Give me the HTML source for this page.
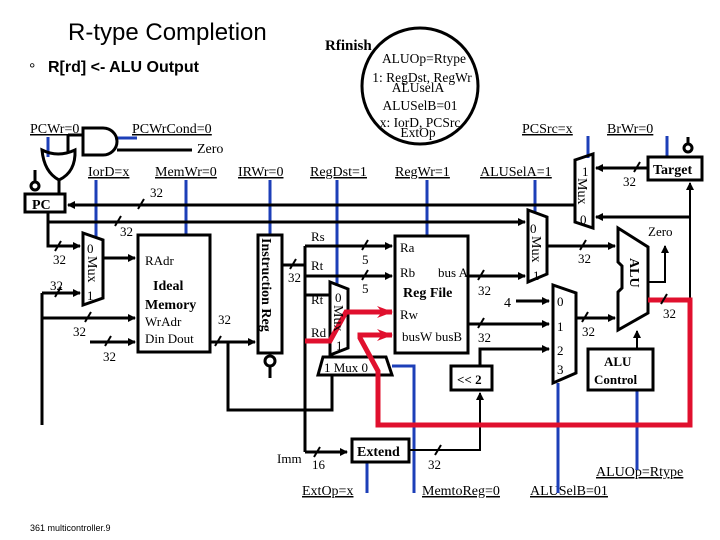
<!DOCTYPE html>
<html><head><meta charset="utf-8"><style>
html,body{margin:0;padding:0;background:#fff}
svg{display:block}
text{font-family:"Liberation Serif",serif;fill:#000}
.s{font-family:"Liberation Sans",sans-serif}
.u{text-decoration:underline}
</style></head><body>
<svg width="720" height="540" viewBox="0 0 720 540" xmlns="http://www.w3.org/2000/svg">
<defs>
<marker id="a" markerWidth="8" markerHeight="8" refX="7" refY="4" orient="auto" markerUnits="userSpaceOnUse"><path d="M0,0 L8,4 L0,8 Z" fill="#000"/></marker>
<marker id="r" markerWidth="16" markerHeight="12" refX="15" refY="6" orient="auto" markerUnits="userSpaceOnUse"><path d="M0,0 L16,6 L0,12 L5,6 Z" fill="#e0102e"/></marker>
</defs>
<text x="68" y="40" class="s" font-size="24">R-type Completion</text>
<text x="29" y="74" class="s" font-size="16">°</text>
<text x="48" y="72" class="s" font-size="16" font-weight="bold">R[rd]  &lt;-  ALU Output</text>

<!-- state bubble -->
<circle cx="420" cy="86" r="58" fill="none" stroke="#000" stroke-width="3"/>
<text x="325" y="50" font-size="15" font-weight="bold">Rfinish</text>
<g font-size="13.5" text-anchor="middle">
<text x="424" y="63">ALUOp=Rtype</text>
<text x="422" y="82">1: RegDst, RegWr</text>
<text x="418" y="92">ALUselA</text>
<text x="420" y="110">ALUSelB=01</text>
<text x="420" y="127">x: IorD, PCSrc</text>
<text x="418" y="137">ExtOp</text>
</g>

<!-- control labels -->
<g font-size="14" class="u">
<text x="30" y="133" class="u">PCWr=0</text>
<text x="132" y="133" class="u">PCWrCond=0</text>
<text x="88" y="176" class="u">IorD=x</text>
<text x="155" y="176" class="u">MemWr=0</text>
<text x="238" y="176" class="u">IRWr=0</text>
<text x="310" y="176" class="u">RegDst=1</text>
<text x="395" y="176" class="u">RegWr=1</text>
<text x="480" y="176" class="u">ALUSelA=1</text>
<text x="522" y="133" class="u">PCSrc=x</text>
<text x="607" y="133" class="u">BrWr=0</text>
<text x="302" y="495" class="u">ExtOp=x</text>
<text x="422" y="495" class="u">MemtoReg=0</text>
<text x="530" y="495" class="u">ALUSelB=01</text>
<text x="596" y="476" class="u">ALUOp=Rtype</text>
</g>
<text x="197" y="153" font-size="14">Zero</text>

<!-- blue control lines -->
<g stroke="#1d3fb8" stroke-width="3" fill="none">
<path d="M48,137V157"/><path d="M115,138H137"/>
<path d="M96,180V238"/><path d="M186,180V235"/><path d="M270,180V235"/>
<path d="M337,180V286"/><path d="M427,180V236"/><path d="M535,180V213"/>
<path d="M588,136V158"/><path d="M667,136V157"/>
<path d="M392,366H414V493"/><path d="M367,462V493"/><path d="M558,383V493"/><path d="M637,390V470"/>
</g>

<!-- black wiring -->
<g stroke="#000" stroke-width="3" fill="none">
<path d="M83,128V155H103A14,13.5 0 0 0 103,128Z"/>
<path d="M83,135H68"/><path d="M117,150H192"/>
<path d="M42,150Q58,158 75,150Q76,172 59,180Q44,172 42,150Z"/>
<path d="M59,180V194"/><path d="M68,135V152"/>
<circle cx="35" cy="186" r="4"/><path d="M35,170V182"/>
<rect x="25" y="194" width="40" height="18"/>
<path d="M575,205H68" marker-end="url(#a)"/>
<path d="M48,212V246H80" marker-end="url(#a)"/>
<path d="M48,222H525" marker-end="url(#a)"/>
<path d="M83,233L103,240V298L83,305Z"/>
<path d="M103,258H135" marker-end="url(#a)"/>
<path d="M42,293H80" marker-end="url(#a)"/>
<path d="M42,293V425"/>
<path d="M42,318H135" marker-end="url(#a)"/>
<path d="M90,342H135" marker-end="url(#a)"/>
<rect x="138" y="235" width="72" height="117"/>
<path d="M210,342H255" marker-end="url(#a)"/>
<path d="M228,342V410H332V376"/>
<rect x="258" y="235" width="24" height="118"/>
<circle cx="270" cy="361" r="5"/><path d="M270,366V378"/>
<path d="M282,265H305"/>
<path d="M305,246V452"/>
<path d="M305,246H392" marker-end="url(#a)"/>
<path d="M305,276H392" marker-end="url(#a)"/>
<path d="M305,295H330"/>
<path d="M305,452H347" marker-end="url(#a)"/>
<path d="M330,282L348,289V348L330,355Z"/>
<path d="M323,357H386L392,375H318Z"/>
<rect x="395" y="236" width="73" height="117"/>
<path d="M468,276H525" marker-end="url(#a)"/>
<path d="M468,324H549" marker-end="url(#a)"/>
<path d="M516,301H549" marker-end="url(#a)"/>
<path d="M480,366V349H549" marker-end="url(#a)"/>
<rect x="451" y="366" width="41" height="24"/>
<rect x="352" y="439" width="57" height="23"/>
<path d="M409,450H480V393" marker-end="url(#a)" stroke-width="2"/>
<path d="M528,210L547,217V274L528,282Z"/>
<path d="M547,246H615" marker-end="url(#a)"/>
<path d="M553,285L576,293V373L553,383Z"/>
<path d="M576,318H615" marker-end="url(#a)"/>
<path d="M618,228L648,247V313L618,330V292L622,288V266L618,262Z"/>
<path d="M648,282H665V246" marker-end="url(#a)" stroke-width="2"/>
<path d="M637,348V331" marker-end="url(#a)" stroke-width="2"/>
<rect x="588" y="349" width="65" height="41"/>
<path d="M575,160L593,154V228L575,222Z"/>
<path d="M648,168H596" marker-end="url(#a)"/>
<path d="M690,300V183" marker-end="url(#a)" stroke-width="2"/>
<path d="M690,217H596" marker-end="url(#a)"/>
<rect x="648" y="157" width="54" height="23"/>
<circle cx="688" cy="148" r="4"/><path d="M688,137V144"/>
</g>

<g stroke="#e0102e" stroke-width="5" fill="none" stroke-linejoin="miter">
<path d="M648,300H690V425H378V371L360,338V335H392" marker-end="url(#r)"/>
<path d="M305,341H330L346,312H392" marker-end="url(#r)"/>
</g>

<g stroke="#000" stroke-width="2">
<path d="M138,209L144,199"/><path d="M115,226L121,216"/><path d="M55,251L61,241"/><path d="M55,297L61,287"/>
<path d="M85,322L91,312"/><path d="M105,346L111,336"/><path d="M215,346L221,336"/>
<path d="M290,269L296,259"/><path d="M362,250L368,240"/><path d="M362,280L368,270"/>
<path d="M478,280L484,270"/><path d="M478,328L484,318"/><path d="M580,250L586,240"/>
<path d="M582,322L588,312"/><path d="M661,304L667,294"/><path d="M634,172L640,162"/>
<path d="M314,457L320,447"/><path d="M435,455L441,445"/>
</g>

<g font-size="13">
<text x="150" y="197">32</text><text x="120" y="236">32</text><text x="53" y="264">32</text><text x="50" y="290">32</text>
<text x="73" y="336">32</text><text x="103" y="361">32</text><text x="218" y="324">32</text>
<text x="288" y="282">32</text><text x="362" y="264">5</text><text x="362" y="293">5</text>
<text x="478" y="295">32</text><text x="478" y="342">32</text><text x="578" y="263">32</text>
<text x="582" y="336">32</text><text x="663" y="318">32</text><text x="623" y="186">32</text>
<text x="312" y="469">16</text><text x="428" y="469">32</text>
<text x="504" y="307" font-size="14">4</text>
<text x="277" y="463">Imm</text>
<text x="648" y="236">Zero</text>
<text x="145" y="265">RAdr</text>
<text x="153" y="290" font-weight="bold" font-size="14">Ideal</text>
<text x="145" y="309" font-weight="bold" font-size="14">Memory</text>
<text x="145" y="326">WrAdr</text>
<text x="145" y="343">Din  Dout</text>
<text x="311" y="241">Rs</text><text x="311" y="270">Rt</text><text x="311" y="304">Rt</text><text x="311" y="337">Rd</text>
<text x="400" y="252">Ra</text><text x="400" y="277">Rb</text><text x="438" y="277">bus A</text>
<text x="403" y="297" font-weight="bold" font-size="14">Reg File</text>
<text x="400" y="319">Rw</text><text x="402" y="341">busW busB</text>
<text x="324" y="372">1  Mux  0</text>
<text x="457" y="384" font-weight="bold">&lt;&lt; 2</text>
<text x="357" y="456" font-weight="bold" font-size="14">Extend</text>
<text x="604" y="366" font-weight="bold">ALU</text>
<text x="594" y="384" font-weight="bold">Control</text>
<text x="653" y="174" font-weight="bold" font-size="14">Target</text>
<text x="32" y="209" font-weight="bold" font-size="14">PC</text>
<text x="557" y="306">0</text><text x="557" y="331">1</text><text x="557" y="355">2</text><text x="557" y="374">3</text>
<text x="582" y="176">1</text><text x="580" y="224">0</text>
<text x="530" y="233">0</text><text x="533" y="280">1</text>
<text x="87" y="253">0</text><text x="87" y="300">1</text>
<text x="335" y="302">0</text><text x="336" y="350">1</text>
</g>
<g font-size="14" font-weight="bold">
<text transform="translate(262,238) rotate(90)">Instruction Reg</text>
<text transform="translate(630,258) rotate(90)">ALU</text>
<text transform="translate(578,178) rotate(90)" font-weight="normal">Mux</text>
<text transform="translate(532,236) rotate(90)" font-weight="normal">Mux</text>
<text transform="translate(88,256) rotate(90)" font-weight="normal">Mux</text>
<text transform="translate(334,305) rotate(90)" font-weight="normal">Mux</text>
</g>
<text x="30" y="531" class="s" font-size="9">361 multicontroller.9</text>
</svg>
</body></html>
